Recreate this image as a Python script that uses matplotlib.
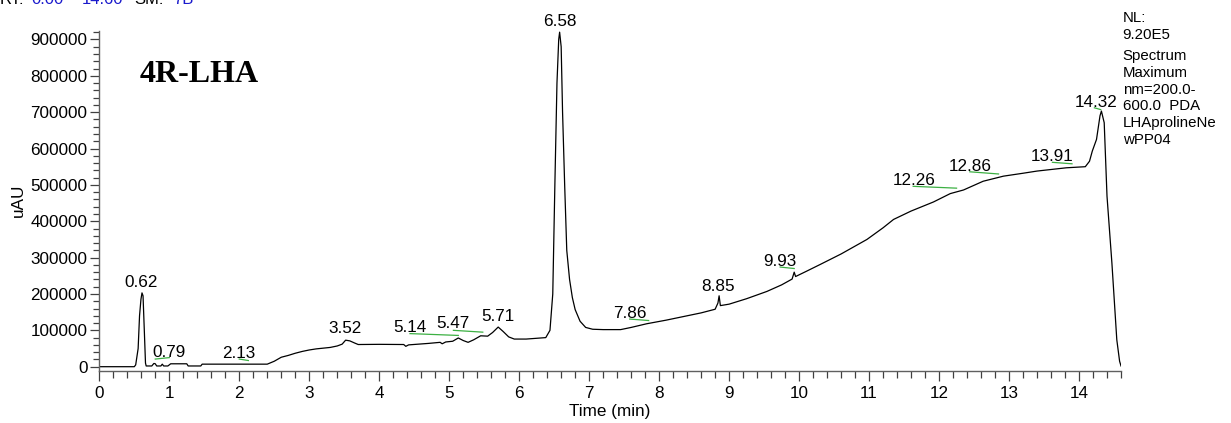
import matplotlib
import matplotlib.pyplot as plt
from matplotlib.ticker import MultipleLocator

matplotlib.use("Agg")

plt.rcParams["font.family"] = ["Liberation Sans", "DejaVu Sans"]

# chromatogram trace (time in min, signal in uAU)
time_min = [
    0.00, 0.50, 0.52, 0.555, 0.575, 0.595, 0.61, 0.625, 0.645, 0.66, 0.67,
    0.75, 0.78, 0.80, 0.82, 0.88, 0.90, 0.92, 0.98, 1.02, 1.25, 1.27, 1.45,
    1.47, 2.40, 2.50, 2.60, 2.70, 2.80, 2.90, 3.00, 3.10, 3.20, 3.30, 3.40,
    3.47, 3.52, 3.58, 3.65, 3.70, 4.00, 4.35, 4.38, 4.42, 4.70, 4.87, 4.90,
    4.95, 5.05, 5.13, 5.20, 5.27, 5.35, 5.45, 5.55, 5.62, 5.70, 5.77, 5.85,
    5.93, 6.10, 6.38, 6.44, 6.48, 6.51, 6.54, 6.565, 6.578, 6.60, 6.62, 6.65,
    6.68, 6.72, 6.76, 6.80, 6.87, 6.95, 7.05, 7.20, 7.45, 7.60, 7.82, 8.10,
    8.35, 8.60, 8.80, 8.84, 8.857, 8.875, 9.00, 9.25, 9.54, 9.75, 9.90, 9.93,
    9.95, 10.10, 10.30, 10.60, 10.97, 11.20, 11.35, 11.60, 11.92, 12.16,
    12.35, 12.63, 12.92, 13.20, 13.40, 13.82, 14.09, 14.15, 14.19, 14.25,
    14.30, 14.32, 14.36, 14.40, 14.47, 14.54, 14.58, 14.60,
]
signal = [
    0, 0, 5000, 50000, 140000, 185000, 203000, 195000, 90000, 10000, 2000,
    2000, 9000, 8000, 2000, 2000, 7000, 2000, 2000, 8000, 8000, 2000, 2000,
    7000, 7000, 15000, 26000, 31000, 37000, 42000, 46000, 49000, 51000, 53000,
    57000, 62000, 73000, 71000, 65000, 61000, 61500, 61000, 56000, 60000,
    64000, 67000, 63000, 68000, 70000, 79000, 72000, 67000, 74000, 85000,
    84000, 94000, 109000, 97000, 82000, 76000, 76000, 80000, 100000, 200000,
    500000, 780000, 900000, 920000, 880000, 700000, 500000, 320000, 240000,
    190000, 157000, 125000, 108000, 103000, 102000, 102000, 108000, 118000,
    128000, 138000, 148000, 158000, 175000, 195000, 168000, 172000, 187000,
    207000, 225000, 241000, 260000, 248000, 262000, 281000, 310000, 350000,
    382000, 405000, 428000, 453000, 476000, 486000, 510000, 524000, 532000,
    538000, 547000, 550000, 565000, 593000, 625000, 690000, 703000, 671000,
    469000, 285000, 74000, 15000, 2000,
]

# peak labels: text, anchor time, anchor signal
peak_text = ["0.62", "0.79", "2.13", "3.52", "5.14", "5.47", "5.71", "6.58",
             "7.86", "8.85", "9.93", "12.26", "12.86", "13.91", "14.32"]
label_t = [0.595, 0.99, 1.99, 3.51, 4.44, 5.06, 5.69, 6.585, 7.58, 8.84,
           9.72, 11.65, 12.45, 13.62, 14.245]
label_v = [220000, 26000, 23000, 92000, 94500, 105500, 126000, 937000,
           134700, 209000, 276800, 499500, 538800, 565400, 714700]

# green integration baselines: start/end time and signal
base_t0 = [0.80, 2.00, 4.44, 5.06, 7.58, 9.73, 11.63, 12.44, 13.62, 14.22]
base_t1 = [1.00, 2.13, 5.13, 5.48, 7.85, 9.93, 12.25, 12.85, 13.90, 14.31]
base_v0 = [21000, 21000, 91000, 100000, 131000, 274000, 496000, 536000,
           562000, 712000]
base_v1 = [25000, 17000, 86000, 95000, 127000, 270000, 491000, 530000,
           558000, 707000]

info_lines = ["NL:", "9.20E5", "Spectrum", "Maximum", "nm=200.0-",
              "600.0  PDA", "LHAprolineNe", "wPP04"]

W, H = 1231, 423
fig = plt.figure(figsize=(W / 100, H / 100), dpi=100)
ax = fig.add_axes([99.3 / W, 1 - 370.7 / H, (1121 - 99.3) / W, (370.7 - 30.7) / H])

ax.plot(time_min, signal, color="black", lw=0.9)

for t0, t1, v0, v1 in zip(base_t0, base_t1, base_v0, base_v1):
    ax.plot([t0, t1], [v0, v1], color="#3cb043", lw=0.9)

for txt, t, v in zip(peak_text, label_t, label_v):
    ax.text(t, v, txt, ha="center", va="baseline", fontsize=12.3, clip_on=False)

ax.set_xlim(0, 14.6)
ax.set_ylim(-11000, 924000)
ax.xaxis.set_major_locator(MultipleLocator(1))
ax.xaxis.set_minor_locator(MultipleLocator(0.2))
ax.yaxis.set_major_locator(MultipleLocator(100000))
ax.yaxis.set_minor_locator(MultipleLocator(20000))

for side in ("top", "right"):
    ax.spines[side].set_visible(False)
for side in ("left", "bottom"):
    ax.spines[side].set_color("#606060")
    ax.spines[side].set_linewidth(1.0)

ax.tick_params(axis="x", which="major", length=7.2, width=0.9, pad=4,
               labelsize=12.3, color="#404040")
ax.tick_params(axis="x", which="minor", length=5, width=0.9, color="#404040")
ax.tick_params(axis="y", which="major", length=6.5, width=0.9, pad=2,
               labelsize=12.3, color="#404040")
ax.tick_params(axis="y", which="minor", length=4.3, width=0.9, color="#404040")

ax.set_xlabel("Time (min)", fontsize=12.3, labelpad=2)
ax.set_ylabel("uAU", fontsize=12.3, labelpad=3)

fig.text(140 / W, 1 - 82 / H, "4R-LHA", family="Liberation Serif",
         fontweight="bold", fontsize=23, va="baseline")

# header line, cut by the top edge
top_y = 1 - 3.5 / H
fig.text(0 / W, top_y, "RT:", fontsize=12, va="baseline")
fig.text(31 / W, top_y, "0.00", fontsize=12, va="baseline", color="#1a1acc")
fig.text(67 / W, top_y, "-", fontsize=12, va="baseline")
fig.text(81.7 / W, top_y, "14.60", fontsize=12, va="baseline", color="#1a1acc")
fig.text(134 / W, top_y, "SM:", fontsize=12, va="baseline")
fig.text(173.3 / W, top_y, "7B", fontsize=12, va="baseline", color="#1a1acc")

info_y = [22, 39, 60, 77, 93.5, 110, 127, 144]
for line, y in zip(info_lines, info_y):
    fig.text(1122.7 / W, 1 - y / H, line, fontsize=10.8, va="baseline")

fig.savefig("out.png", dpi=100)
